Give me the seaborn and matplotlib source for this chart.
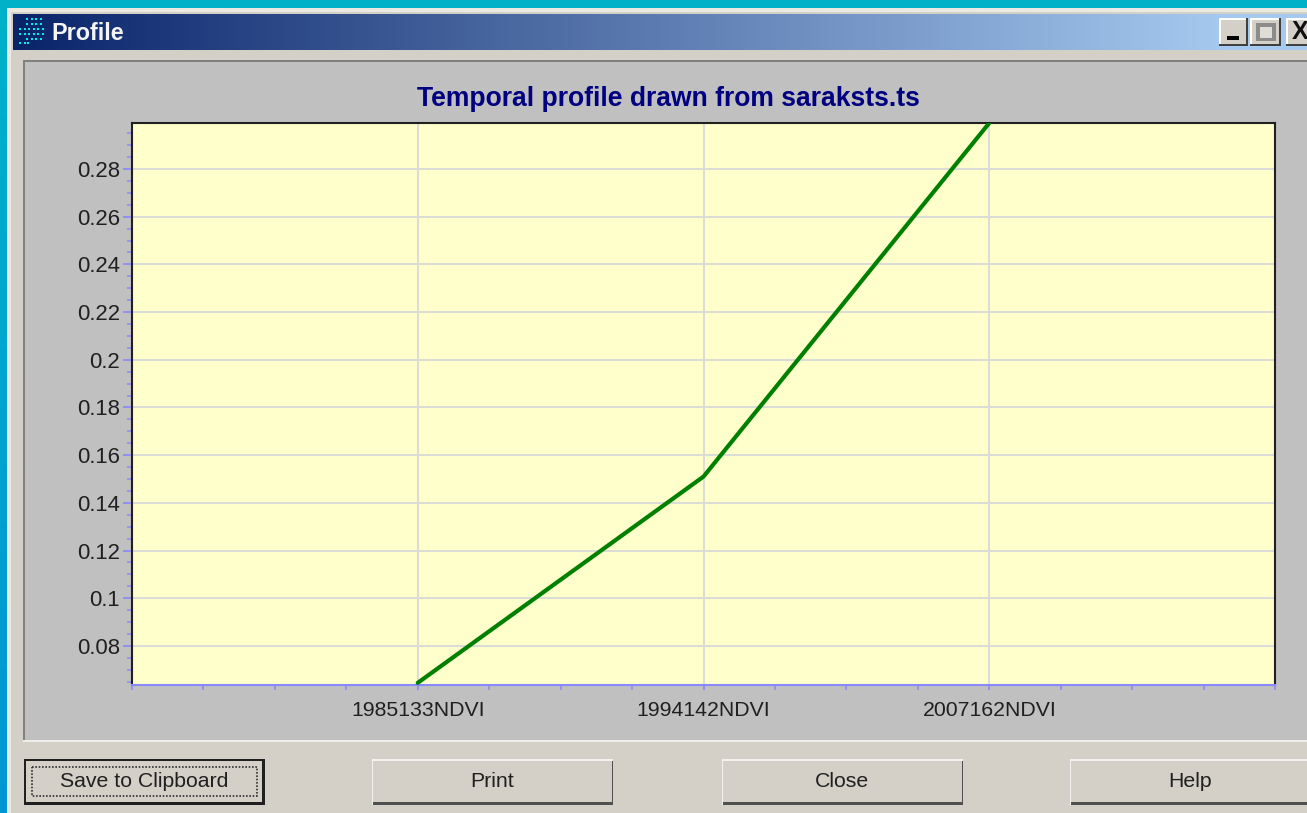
import numpy as np
import pandas as pd
import matplotlib
matplotlib.use('Agg')
import matplotlib.pyplot as plt
from matplotlib.patches import Rectangle
from matplotlib.ticker import MultipleLocator, NullFormatter
import seaborn as sns

# values
bands = ['1985133NDVI', '1994142NDVI', '2007162NDVI']
band_pos = [1, 2, 3]
ndvi = [0.0645, 0.151, 0.2993]
y_ticks = [0.08, 0.1, 0.12, 0.14, 0.16, 0.18, 0.2, 0.22, 0.24, 0.26, 0.28]
y_labels = ['0.08', '0.1', '0.12', '0.14', '0.16', '0.18', '0.2', '0.22', '0.24', '0.26', '0.28']
buttons = ['Save to Clipboard', 'Print', 'Close', 'Help']
button_left = [24, 372, 722, 1070]

W, H = 1307, 813
sns.set_theme(style='white')
plt.rcParams['font.family'] = ['Liberation Sans', 'DejaVu Sans']

fig = plt.figure(figsize=(W / 100, H / 100), dpi=100)

# window chrome, drawn in pixel coords on a full size axes
bg = fig.add_axes([0, 0, 1, 1], zorder=0)
bg.set_xlim(0, W)
bg.set_ylim(H, 0)
bg.axis('off')


def box(x0, y0, x1, y1, color, z=1):
    bg.add_patch(Rectangle((x0, y0), x1 - x0, y1 - y0, facecolor=color, edgecolor='none', zorder=z))


# desktop
desk = np.zeros((H, 8, 3))
c_top = np.array([0, 178, 200]) / 255
c_bot = np.array([0, 150, 212]) / 255
for i in range(H):
    desk[i, :] = c_top + (c_bot - c_top) * i / H
bg.imshow(desk, extent=(0, W, H, 0), aspect='auto', zorder=0)

# window frame and title bar
box(7, 8, W, H, '#ece9e2', 1)
box(11, 12, W, H, '#d4d0c8', 2)
grad = np.clip(np.linspace(0, 1.06, 256), 0, 1)[None, :, None]
c0 = np.array([10, 36, 106]) / 255
c1 = np.array([166, 202, 240]) / 255
bar = c0 + (c1 - c0) * grad
bg.imshow(bar, extent=(13, W, 50, 14), aspect='auto', zorder=3)
bg.set_xlim(0, W)
bg.set_ylim(H, 0)
bg.text(51.5, 33, 'Profile', color='#f4f4f4', fontsize=16.8, fontweight='bold', va='center', ha='left', zorder=5)

# little dotted icon
icon_rows = [(27, 31.5, 36, 40.5),
             (27, 31.5, 36, 40.5),
             (20, 24.5, 29, 33.5, 38, 42.5),
             (20, 24.5, 29, 33.5, 38, 42.5),
             (27, 31.5, 36, 40.5),
             (20, 24.5, 27.5)]
for n, row in enumerate(icon_rows):
    bg.scatter(row, [19.5 + n * 4.8] * len(row), s=4.5, marker='s', color='#00eef0', linewidths=0, zorder=5)

# title bar buttons
for x0, x1, sym in [(1219, 1248, 'min'), (1250, 1281, 'max'), (1286, 1310, 'x')]:
    box(x0, 18, x1, 46, '#404040', 4)
    box(x0, 18, x1 - 2, 44, 'white', 4.1)
    box(x0 + 2, 20, x1 - 2, 44, '#d4d0c8', 4.2)
    if sym == 'min':
        box(x0 + 8, 36, x0 + 20, 40, 'black', 5)
    elif sym == 'max':
        box(x0 + 6, 23, x0 + 26, 41, '#8c8c8c', 5)
        box(x0 + 10, 27, x0 + 22, 38, '#e0ddd6', 5.1)
    else:
        bg.text(x0 + 14, 32, 'X', fontsize=18, fontweight='bold', color='#101010', ha='center', va='center', zorder=5)

# grey panel behind the chart
box(23, 60, W, 742, '#f0eeea', 3)
box(23, 60, W, 740, '#808080', 3.1)
box(25, 62, W, 740, '#c0c0c0', 3.2)

# push buttons
for lab, x0 in zip(buttons, button_left):
    if lab == 'Save to Clipboard':
        box(x0, 759, x0 + 241, 805, '#202020', 4)
        box(x0 + 2, 761, x0 + 238, 802, '#d4d0c8', 4.1)
        bg.add_patch(Rectangle((x0 + 8, 767), 225, 29, fill=False, edgecolor='#303030', lw=1.2, ls=(0, (1, 1)), zorder=5))
    else:
        box(x0, 759, x0 + 241, 805, '#f4f2ee', 4)
        box(x0 + 1, 761, x0 + 241, 805, '#505050', 4.1)
        box(x0 + 1, 761, x0 + 240, 802, '#d4d0c8', 4.2)
    bg.text(x0 + 120, 781.5, lab, fontsize=15.3, color='#202020', ha='center', va='center', zorder=6)

# the chart itself
ax = fig.add_axes([132 / W, 1 - 685 / H, (1275 - 132) / W, (685 - 123) / H], zorder=2)
ax.set_facecolor('#ffffcc')

df = pd.DataFrame({'pos': band_pos, 'ndvi': ndvi})
sns.lineplot(data=df, x='pos', y='ndvi', color='#008000', linewidth=3.0, ax=ax, zorder=3)

ax.set_xlim(0, 4)
ax.set_ylim(0.0636, 0.2993)
ax.set_xlabel('')
ax.set_ylabel('')

ax.set_xticks(band_pos)
ax.set_xticklabels(bands)
ax.set_yticks(y_ticks)
ax.set_yticklabels(y_labels)
ax.xaxis.set_minor_locator(MultipleLocator(0.25))
ax.yaxis.set_minor_locator(MultipleLocator(0.005))
ax.xaxis.set_minor_formatter(NullFormatter())

ax.grid(True, which='major', color='#dcdcd8', linewidth=1.4, zorder=1)
ax.tick_params(axis='y', which='major', length=6.5, width=1.2, color='#8888ff', labelsize=15.9, labelcolor='#202020', pad=2, left=True)
ax.tick_params(axis='y', which='minor', length=3.5, width=1.1, color='#8888ff', left=True)
ax.tick_params(axis='x', which='major', length=3.5, width=1.2, color='#8888ff', labelsize=15.3, labelcolor='#202020', pad=8, bottom=True)
ax.tick_params(axis='x', which='minor', length=3.5, width=1.1, color='#8888ff', bottom=True)

for s in ['top', 'left', 'right']:
    ax.spines[s].set_color('#202020')
    ax.spines[s].set_linewidth(1.5)
ax.spines['bottom'].set_color('#8888ff')
ax.spines['bottom'].set_linewidth(1.5)

bg.text(668.5, 98.5, 'Temporal profile drawn from saraksts.ts', color='#000080', fontsize=19.1, fontweight='bold',
        ha='center', va='center', zorder=6)

fig.savefig('out.png', dpi=100)
